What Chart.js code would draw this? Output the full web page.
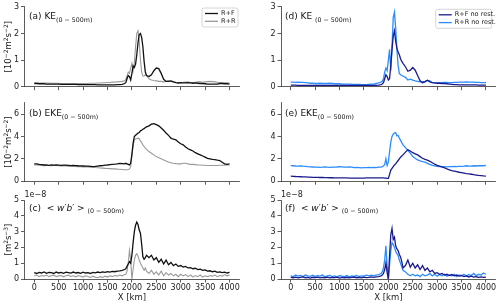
<!DOCTYPE html>
<html>
<head>
<meta charset="utf-8">
<script src="https://cdn.jsdelivr.net/npm/chart.js@4"></script>
<style>
  body { margin: 0; background: #fff; }
  #wrap { position: relative; width: 500px; height: 304px; }
  canvas { position: absolute; }
</style>
</head>
<body>
<div id="wrap">
  <canvas id="pa" width="250" height="94" style="left:0;top:0"></canvas>
  <canvas id="pb" width="250" height="94" style="left:0;top:94px"></canvas>
  <canvas id="pc" width="250" height="116" style="left:0;top:188px"></canvas>
  <canvas id="pd" width="250" height="94" style="left:250px;top:0"></canvas>
  <canvas id="pe" width="250" height="94" style="left:250px;top:94px"></canvas>
  <canvas id="pf" width="250" height="116" style="left:250px;top:188px"></canvas>
</div>
<script>
// along-front distance (km), finer around the front at 2000 km
var xKm = [0,50,100,150,200,250,300,350,400,450,500,550,600,650,700,750,800,850,900,950,
  1000,1050,1100,1150,1200,1250,1300,1350,1400,1450,1500,1550,1600,1650,1700,1750,1800,1850,
  1875,1900,1925,1950,1975,2000,2025,2050,2075,2100,2125,2150,2175,2200,2225,2250,2275,2300,
  2350,2400,2450,2500,2550,2600,2650,2700,2750,2800,2850,2900,2950,3000,3050,3100,3150,3200,
  3250,3300,3350,3400,3450,3500,3550,3600,3650,3700,3750,3800,3850,3900,3950,4000];

var xTicks = [0,500,1000,1500,2000,2500,3000,3500,4000];

// KE (0-500m), 1e-2 m2/s2
var keRF = [0.12,0.12,0.11,0.11,0.11,0.10,0.10,0.10,0.10,0.10,0.10,0.09,0.09,0.09,0.09,0.09,0.09,0.09,0.08,0.08,
  0.08,0.08,0.08,0.08,0.08,0.08,0.07,0.07,0.07,0.07,0.07,0.07,0.07,0.07,0.08,0.08,0.09,0.12,
  0.15,0.30,0.42,0.38,0.25,0.50,0.78,0.72,0.85,1.20,1.65,1.95,2.00,1.85,1.50,0.95,0.55,0.42,
  0.38,0.45,0.60,0.70,0.68,0.50,0.28,0.20,0.20,0.22,0.18,0.15,0.14,0.15,0.14,0.14,0.15,0.14,0.13,0.14,
  0.13,0.12,0.12,0.11,0.10,0.10,0.10,0.10,0.10,0.12,0.12,0.11,0.11,0.10];
var keRR = [0.15,0.15,0.14,0.14,0.14,0.14,0.14,0.13,0.13,0.13,0.13,0.12,0.12,0.12,0.12,0.12,0.12,0.12,0.12,0.12,
  0.12,0.12,0.12,0.13,0.13,0.13,0.14,0.14,0.15,0.15,0.16,0.16,0.17,0.17,0.18,0.19,0.20,0.22,
  0.28,0.40,0.55,0.50,0.70,0.88,0.60,0.90,1.50,2.00,2.10,1.70,1.00,0.55,0.40,0.40,0.45,0.42,
  0.30,0.25,0.23,0.22,0.20,0.20,0.18,0.20,0.22,0.20,0.18,0.16,0.15,0.15,0.16,0.17,0.17,0.16,0.16,0.17,
  0.18,0.18,0.17,0.18,0.19,0.20,0.19,0.18,0.17,0.16,0.15,0.15,0.15,0.14];
var keRFnr = [0.06,0.06,0.06,0.05,0.05,0.05,0.05,0.05,0.05,0.05,0.05,0.05,0.05,0.05,0.05,0.05,0.05,0.05,0.05,0.05,
  0.05,0.05,0.05,0.05,0.05,0.05,0.05,0.05,0.05,0.05,0.05,0.05,0.05,0.05,0.05,0.05,0.06,0.08,
  0.10,0.15,0.30,0.45,0.38,0.25,0.30,0.80,1.40,1.90,2.10,1.70,1.45,1.30,1.20,1.05,0.95,0.88,
  0.75,0.58,0.62,0.72,0.62,0.42,0.22,0.15,0.18,0.24,0.18,0.15,0.14,0.13,0.13,0.12,0.12,0.11,0.10,0.09,
  0.08,0.08,0.07,0.07,0.07,0.07,0.07,0.07,0.07,0.07,0.06,0.06,0.06,0.06];
var keRRnr = [0.17,0.17,0.16,0.17,0.16,0.16,0.15,0.14,0.13,0.13,0.12,0.12,0.13,0.12,0.12,0.12,0.13,0.12,0.11,0.11,
  0.11,0.10,0.10,0.10,0.10,0.09,0.09,0.09,0.09,0.08,0.08,0.08,0.09,0.10,0.10,0.12,0.14,0.17,
  0.20,0.30,0.55,0.70,0.60,1.00,1.40,0.60,1.50,2.60,2.80,2.20,1.40,0.80,0.50,0.45,0.42,0.40,
  0.35,0.25,0.28,0.25,0.22,0.20,0.18,0.18,0.20,0.24,0.22,0.15,0.14,0.14,0.15,0.15,0.16,0.16,0.15,0.15,
  0.16,0.16,0.17,0.17,0.17,0.18,0.17,0.17,0.17,0.16,0.16,0.15,0.15,0.15];

// EKE (0-500m), 1e-2 m2/s2
var ekeRF = [1.55,1.55,1.50,1.48,1.45,1.45,1.42,1.45,1.43,1.45,1.44,1.42,1.43,1.44,1.42,1.40,1.42,1.40,1.38,1.37,
  1.36,1.35,1.35,1.33,1.30,1.32,1.35,1.38,1.40,1.43,1.45,1.48,1.50,1.52,1.55,1.60,1.58,1.55,
  1.60,1.55,1.50,1.45,1.60,2.40,3.40,4.00,4.10,4.20,4.30,4.35,4.50,4.55,4.65,4.70,4.80,4.85,
  4.95,5.10,5.15,5.05,4.95,4.75,4.55,4.30,4.10,3.85,3.75,3.70,3.50,3.35,3.25,3.05,2.90,2.80,2.70,2.55,
  2.45,2.35,2.25,2.15,2.05,2.00,1.95,1.92,1.88,1.85,1.70,1.55,1.50,1.55];
var ekeRR = [1.45,1.45,1.42,1.40,1.38,1.40,1.40,1.38,1.40,1.40,1.38,1.37,1.38,1.37,1.35,1.35,1.33,1.32,1.30,1.30,
  1.28,1.28,1.27,1.26,1.25,1.22,1.20,1.18,1.17,1.15,1.13,1.12,1.10,1.10,1.08,1.07,1.05,1.03,
  1.02,1.03,1.05,1.10,1.30,2.30,3.20,3.70,3.80,3.80,3.85,3.80,3.60,3.45,3.25,3.10,2.95,2.85,
  2.65,2.50,2.35,2.20,2.10,2.00,1.90,1.80,1.72,1.65,1.60,1.57,1.55,1.55,1.60,1.60,1.55,1.50,1.50,1.48,
  1.45,1.45,1.43,1.42,1.40,1.40,1.40,1.40,1.40,1.42,1.42,1.43,1.45,1.45];
var ekeRFnr = [0.45,0.44,0.42,0.41,0.40,0.39,0.38,0.37,0.36,0.35,0.35,0.34,0.33,0.33,0.32,0.32,0.31,0.31,0.30,0.30,
  0.30,0.29,0.29,0.29,0.28,0.28,0.28,0.28,0.28,0.28,0.28,0.29,0.29,0.29,0.30,0.30,0.30,0.30,
  0.30,0.30,0.28,0.27,0.25,0.25,0.60,1.00,1.15,1.30,1.45,1.55,1.70,1.85,2.00,2.15,2.25,2.35,
  2.60,2.80,2.70,2.55,2.45,2.35,2.20,2.05,1.95,1.88,1.78,1.65,1.52,1.42,1.35,1.28,1.20,1.10,1.02,0.95,
  0.90,0.85,0.80,0.76,0.72,0.68,0.65,0.62,0.58,0.55,0.52,0.50,0.47,0.45];
var ekeRRnr = [1.40,1.38,1.36,1.35,1.37,1.34,1.33,1.30,1.28,1.27,1.25,1.26,1.24,1.25,1.27,1.25,1.24,1.26,1.25,1.27,
  1.30,1.28,1.26,1.25,1.27,1.25,1.22,1.24,1.22,1.20,1.22,1.21,1.23,1.22,1.24,1.22,1.25,1.25,
  1.30,1.35,1.50,2.00,1.40,1.70,2.60,3.50,4.00,4.20,4.30,4.35,4.05,4.10,3.85,3.65,3.45,3.25,
  3.00,2.75,2.50,2.20,2.05,1.90,1.82,1.75,1.70,1.60,1.50,1.42,1.38,1.32,1.30,1.28,1.30,1.28,1.30,1.30,
  1.32,1.30,1.32,1.33,1.35,1.38,1.34,1.35,1.38,1.36,1.38,1.40,1.38,1.42];

// <w'b'> (0-500m), units of 1e-8 m2/s3
var wbRF = [0.40,0.35,0.42,0.38,0.45,0.36,0.42,0.40,0.35,0.44,0.38,0.42,0.36,0.43,0.40,0.37,0.44,0.38,0.41,0.36,
  0.43,0.38,0.40,0.35,0.42,0.39,0.44,0.40,0.45,0.42,0.47,0.44,0.48,0.46,0.50,0.52,0.55,0.60,
  0.65,0.80,0.95,1.10,1.00,1.50,2.30,3.00,3.40,3.60,3.45,3.10,2.90,2.20,1.40,1.25,1.35,1.50,
  1.35,1.50,1.20,1.35,1.05,1.25,0.95,1.20,0.90,1.05,0.85,0.95,0.80,0.85,0.75,0.80,0.70,0.72,0.65,0.68,
  0.60,0.62,0.55,0.58,0.50,0.52,0.46,0.50,0.42,0.45,0.40,0.43,0.38,0.42];
var wbRR = [0.20,0.25,0.15,0.22,0.18,0.25,0.15,0.20,0.24,0.15,0.20,0.22,0.14,0.20,0.24,0.16,0.20,0.14,0.22,0.18,
  0.12,0.20,0.16,0.10,0.18,0.12,0.08,0.15,0.10,0.18,0.12,0.20,0.15,0.22,0.18,0.25,0.20,0.28,
  0.30,0.50,1.00,1.80,1.20,0.00,0.60,1.20,1.50,1.60,1.45,1.20,1.00,0.85,0.70,0.55,0.70,0.50,
  0.35,0.55,0.30,0.45,0.25,0.50,0.20,0.40,0.25,0.35,0.20,0.30,0.15,0.30,0.20,0.28,0.15,0.25,0.12,0.22,
  0.15,0.25,0.12,0.20,0.15,0.22,0.18,0.25,0.15,0.22,0.18,0.28,0.20,0.25];
var wbRFnr = [0.10,0.08,0.12,0.07,0.10,0.13,0.08,0.10,0.06,0.11,0.09,0.12,0.07,0.10,0.08,0.12,0.07,0.10,0.09,0.12,
  0.06,0.10,0.08,0.11,0.07,0.10,0.12,0.08,0.10,0.07,0.12,0.09,0.10,0.13,0.10,0.14,0.15,0.20,
  0.25,0.35,0.60,1.00,0.40,0.00,1.50,2.80,3.20,2.50,2.65,2.10,1.90,1.80,1.55,1.40,1.10,0.70,
  0.85,1.20,0.75,1.00,0.70,0.90,0.60,0.85,0.55,0.70,0.45,0.55,0.35,0.40,0.30,0.35,0.25,0.30,0.22,0.28,
  0.20,0.25,0.18,0.22,0.15,0.20,0.13,0.18,0.12,0.15,0.10,0.13,0.10,0.12];
var wbRRnr = [0.20,0.15,0.25,0.18,0.22,0.15,0.25,0.20,0.17,0.24,0.15,0.22,0.18,0.25,0.14,0.20,0.22,0.15,0.20,0.12,
  0.22,0.18,0.15,0.22,0.14,0.20,0.16,0.22,0.15,0.20,0.18,0.24,0.20,0.25,0.22,0.25,0.28,0.35,
  0.45,0.70,1.20,2.10,0.80,0.00,0.90,1.80,2.30,2.20,2.00,1.75,1.60,1.50,1.20,1.00,0.75,0.55,
  0.45,0.30,0.20,0.30,0.20,0.25,0.15,0.30,0.20,0.25,0.35,0.20,0.30,0.18,0.28,0.20,0.30,0.18,0.25,0.20,
  0.30,0.15,0.25,0.20,0.30,0.18,0.28,0.22,0.35,0.20,0.30,0.25,0.38,0.30];

var FONT = "'DejaVu Sans', sans-serif";
var BLACK = '#111111', GREY = '#999999', NAVY = '#1a1a8c', SKY = '#2a8cff';

function toPts(vals) {
  return xKm.map(function (x, i) { return {x: x, y: vals[i]}; });
}

// draw text made of pieces: [text, 'sub'|'sup'|'it'|'']
function richWidth(ctx, parts, size) {
  var w = 0;
  parts.forEach(function (p) {
    var s = (p[1] === 'sub' || p[1] === 'sup') ? size * 0.7 : size;
    ctx.font = (p[1] === 'it' ? 'italic ' : '') + s + 'px ' + FONT;
    w += ctx.measureText(p[0]).width;
  });
  return w;
}
function drawRich(ctx, x, y, parts, size) {
  ctx.textAlign = 'left';
  ctx.textBaseline = 'alphabetic';
  parts.forEach(function (p) {
    var s = size, dy = 0;
    if (p[1] === 'sub') { s = size * 0.7; dy = size * 0.3; }
    if (p[1] === 'sup') { s = size * 0.7; dy = -size * 0.4; }
    ctx.font = (p[1] === 'it' ? 'italic ' : '') + s + 'px ' + FONT;
    ctx.fillText(p[0], x, y + dy);
    x += ctx.measureText(p[0]).width;
  });
}

function drawLegend(ctx, chart, x, y, w) {
  var ds = chart.data.datasets;
  ctx.save();
  ctx.fillStyle = 'rgba(255,255,255,0.8)';
  ctx.strokeStyle = '#cccccc';
  ctx.lineWidth = 0.8;
  ctx.beginPath();
  ctx.roundRect(x, y, w, 19, 2);
  ctx.fill();
  ctx.stroke();
  ds.forEach(function (d, i) {
    var ly = y + 5.5 + i * 7.8;
    ctx.strokeStyle = d.borderColor;
    ctx.lineWidth = 1.3;
    ctx.beginPath();
    ctx.moveTo(x + 3, ly);
    ctx.lineTo(x + 16, ly);
    ctx.stroke();
    ctx.fillStyle = '#222';
    ctx.font = '6.5px ' + FONT;
    ctx.textBaseline = 'middle';
    ctx.fillText(d.label, x + 19, ly);
  });
  ctx.restore();
}

function panel(id, cfg) {
  var canvas = document.getElementById(id);
  return new Chart(canvas, {
    type: 'line',
    data: {
      datasets: cfg.series.map(function (s) {
        return {label: s.label, data: toPts(s.data), borderColor: s.color, borderWidth: s.width,
                pointRadius: 0, tension: 0, fill: false};
      })
    },
    options: {
      responsive: false,
      animation: false,
      devicePixelRatio: 1,
      layout: {padding: {top: cfg.top, right: cfg.right, left: 0, bottom: 0}},
      plugins: {legend: {display: false}, tooltip: {enabled: false}},
      scales: {
        x: {
          type: 'linear', min: -200, max: 4200,
          afterBuildTicks: function (s) { s.ticks = xTicks.map(function (v) { return {value: v}; }); },
          afterFit: function (s) { s.height = cfg.xh; },
          grid: {drawOnChartArea: false, tickLength: 3.5, color: '#333', lineWidth: 0.8},
          border: {color: '#333', width: 0.8},
          ticks: {display: cfg.xLabels, autoSkip: false, maxRotation: 0, padding: 1,
                  font: {family: FONT, size: 8}, color: '#222',
                  callback: function (v) { return String(v); }},
          title: {display: cfg.xLabels, text: 'X [km]', font: {family: FONT, size: 8.5},
                  color: '#222', padding: {top: 0, bottom: 1}}
        },
        y: {
          min: 0, max: cfg.ymax,
          afterBuildTicks: function (s) { s.ticks = cfg.yTicks.map(function (v) { return {value: v}; }); },
          afterFit: function (s) { s.width = cfg.yw; },
          grid: {drawOnChartArea: false, tickLength: 3.5, color: '#333', lineWidth: 0.8},
          border: {color: '#333', width: 0.8},
          ticks: {padding: 2, font: {family: FONT, size: 8}, color: '#222',
                  callback: function (v) { return String(v); }}
        }
      }
    },
    plugins: [{
      id: 'deco',
      afterDraw: function (chart) {
        var ctx = chart.ctx;
        ctx.save();
        ctx.fillStyle = '#111';
        drawRich(ctx, cfg.labelX, cfg.labelY, cfg.label, 9);
        if (cfg.yTitle) {
          var a = chart.chartArea;
          var w = richWidth(ctx, cfg.yTitle, 8.5);
          ctx.save();
          ctx.translate(11, (a.top + a.bottom) / 2);
          ctx.rotate(-Math.PI / 2);
          drawRich(ctx, -w / 2, 0, cfg.yTitle, 8.5);
          ctx.restore();
        }
        if (cfg.offset) {
          ctx.font = '8px ' + FONT;
          ctx.fillStyle = '#222';
          ctx.fillText('1e\u22128', chart.chartArea.left, 9);
        }
        ctx.restore();
        if (cfg.legend) drawLegend(ctx, chart, cfg.legend[0], cfg.legend[1], cfg.legend[2]);
      }
    }]
  });
}

var sub = ['(0 \u2212 500m)', 'sub'];
var titleKE = [['[10', ''], ['\u22122', 'sup'], ['m', ''], ['2', 'sup'], ['s', ''], ['\u22122', 'sup'], [']', '']];
var titleWB = [['[m', ''], ['2', 'sup'], ['s', ''], ['\u22123', 'sup'], [']', '']];

var rows = [
  {top: 6, xh: 7.3, ymax: 3, yTicks: [0, 1, 2, 3], xLabels: false, labelY: 19},
  {top: 8.9, xh: 5.3, ymax: 7, yTicks: [0, 2, 4, 6], xLabels: false, labelY: 22},
  {top: 12, xh: 25, ymax: 5, yTicks: [0, 1, 2, 3, 4, 5], xLabels: true, labelY: 22.5}
];

function cfgFor(row, col, extra) {
  return Object.assign({}, rows[row], col === 0
    ? {yw: 24.5, right: 10.7, labelX: 29}
    : {yw: 31, right: 4.3, labelX: 35}, extra);
}

panel('pa', cfgFor(0, 0, {
  label: [['(a) KE', ''], sub], yTitle: titleKE, legend: [202, 8, 36],
  series: [{label: 'R+F', data: keRF, color: BLACK, width: 1.3},
           {label: 'R+R', data: keRR, color: GREY, width: 1.1}]
}));
panel('pb', cfgFor(1, 0, {
  label: [['(b) EKE', ''], sub], yTitle: titleKE,
  series: [{label: 'R+F', data: ekeRF, color: BLACK, width: 1.3},
           {label: 'R+R', data: ekeRR, color: GREY, width: 1.1}]
}));
panel('pc', cfgFor(2, 0, {
  label: [['(c)  < ', ''], ['w', 'it'], ['\u2032', ''], ['b', 'it'], ['\u2032 >', ''], [' ', ''], sub],
  yTitle: titleWB, offset: true,
  series: [{label: 'R+F', data: wbRF, color: BLACK, width: 1.3},
           {label: 'R+R', data: wbRR, color: GREY, width: 1.1}]
}));
panel('pd', cfgFor(0, 1, {
  label: [['(d) KE ', ''], sub], legend: [185.7, 9.3, 56],
  series: [{label: 'R+F no rest.', data: keRFnr, color: NAVY, width: 1.3},
           {label: 'R+R no rest.', data: keRRnr, color: SKY, width: 1.3}]
}));
panel('pe', cfgFor(1, 1, {
  label: [['(e) EKE', ''], sub],
  series: [{label: 'R+F no rest.', data: ekeRFnr, color: NAVY, width: 1.3},
           {label: 'R+R no rest.', data: ekeRRnr, color: SKY, width: 1.3}]
}));
panel('pf', cfgFor(2, 1, {
  label: [['(f)  < ', ''], ['w', 'it'], ['\u2032', ''], ['b', 'it'], ['\u2032 >', ''], [' ', ''], sub],
  offset: true,
  series: [{label: 'R+F no rest.', data: wbRFnr, color: NAVY, width: 1.3},
           {label: 'R+R no rest.', data: wbRRnr, color: SKY, width: 1.3}]
}));
</script>
</body>
</html>
